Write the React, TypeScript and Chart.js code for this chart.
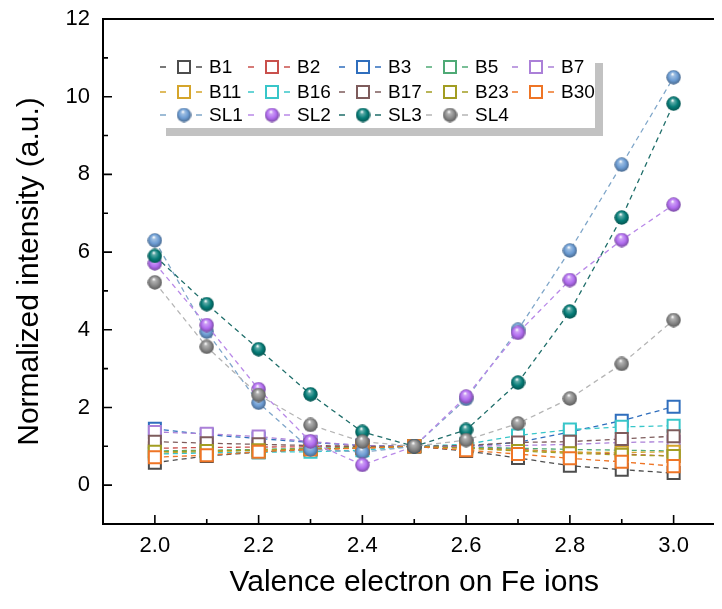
import React, { useEffect, useRef } from "react";
import { Chart, registerables } from "chart.js";

Chart.register(...registerables);

const FONT = "Arial, 'Liberation Sans', sans-serif";

// ---- data ----
const xValues = [2.0, 2.1, 2.2, 2.3, 2.4, 2.5, 2.6, 2.7, 2.8, 2.9, 3.0];
const xTicks = [2.0, 2.2, 2.4, 2.6, 2.8, 3.0];
const yTicks = [0, 2, 4, 6, 8, 10, 12];
const yMinorTicks = [1, 3, 5, 7, 9, 11];

const seriesNames = ["B1", "B2", "B3", "B5", "B7", "B11", "B16", "B17", "B23", "B30", "SL1", "SL2", "SL3", "SL4"];

const b1 = [0.58, 0.75, 0.85, 0.92, 0.96, 1.0, 0.88, 0.7, 0.5, 0.4, 0.31];
const b2 = [0.95, 0.97, 0.98, 0.99, 1.0, 1.0, 0.97, 0.92, 0.85, 0.8, 0.75];
const b3 = [1.45, 1.3, 1.2, 1.1, 1.02, 1.0, 1.0, 1.1, 1.37, 1.66, 2.02];
const b5 = [0.88, 0.9, 0.92, 0.95, 0.98, 1.0, 0.98, 0.95, 0.92, 0.9, 0.88];
const b7 = [1.37, 1.32, 1.25, 1.12, 1.02, 1.0, 1.0, 1.02, 1.05, 1.1, 1.12];
const b11 = [0.82, 0.86, 0.9, 0.93, 0.96, 1.0, 0.95, 0.9, 0.85, 0.84, 0.86];
const b16 = [0.8, 0.83, 0.85, 0.86, 0.9, 1.0, 1.05, 1.28, 1.43, 1.5, 1.53];
const b17 = [1.12, 1.08, 1.05, 1.02, 1.0, 1.0, 1.02, 1.1, 1.12, 1.19, 1.26];
const b23 = [0.86, 0.88, 0.9, 0.93, 0.96, 1.0, 0.95, 0.88, 0.82, 0.78, 0.75];
const b30 = [0.72, 0.77, 0.86, 0.92, 0.95, 1.0, 0.9, 0.8, 0.69, 0.6, 0.49];
const sl1 = [6.3, 3.95, 2.12, 0.92, 0.85, 1.0, 2.22, 4.0, 6.04, 8.25, 10.5];
const sl2 = [5.71, 4.12, 2.47, 1.12, 0.52, 1.0, 2.28, 3.92, 5.28, 6.31, 7.22];
const sl3 = [5.9, 4.66, 3.5, 2.34, 1.37, 1.0, 1.42, 2.64, 4.47, 6.89, 9.82];
const sl4 = [5.22, 3.56, 2.32, 1.55, 1.12, 1.0, 1.16, 1.59, 2.23, 3.12, 4.25];

const seriesValues = [b1, b2, b3, b5, b7, b11, b16, b17, b23, b30, sl1, sl2, sl3, sl4];

const seriesColors = [
  "#4D4D4D", "#C9504C", "#2F6EBD", "#4FAA76", "#AB80D8",
  "#D5A52B", "#38C6C9", "#7E5C5C", "#A29D22", "#EE7526",
  "#6C9CD3", "#B26DF0", "#067C77", "#898989",
];
const lineColors = [
  "#4D4D4D", "#C9504C", "#2F6EBD", "#4FAA76", "#AB80D8",
  "#D5A52B", "#38C6C9", "#7E5C5C", "#A29D22", "#EE7526",
  "#7FA6C9", "#B989E8", "#1F6E6A", "#B5B5B5",
];
const sphereSeries = [false, false, false, false, false, false, false, false, false, false, true, true, true, true];

// ---- helpers ----
function mix(hex: string, target: number, t: number) {
  const n = parseInt(hex.slice(1), 16);
  const r = (n >> 16) & 255, g = (n >> 8) & 255, b = n & 255;
  const f = (c: number) => Math.round(c + (target - c) * t);
  return `rgb(${f(r)},${f(g)},${f(b)})`;
}

function makeSphere(color: string, d: number) {
  const c = document.createElement("canvas");
  c.width = d;
  c.height = d;
  const g = c.getContext("2d")!;
  const r = d / 2;
  const grad = g.createRadialGradient(r * 0.85, r * 0.55, r * 0.05, r, r, r);
  grad.addColorStop(0, "#ffffff");
  grad.addColorStop(0.2, mix(color, 255, 0.35));
  grad.addColorStop(0.6, color);
  grad.addColorStop(1, mix(color, 0, 0.35));
  g.fillStyle = grad;
  g.beginPath();
  g.arc(r, r, r - 0.3, 0, Math.PI * 2);
  g.fill();
  return c;
}

const frameTicksPlugin = {
  id: "frameTicks",
  afterDatasetsDraw(chart: any) {
    const { ctx, chartArea: a, scales } = chart;
    const xs = scales.x, ys = scales.y;
    ctx.save();
    ctx.strokeStyle = "#000";
    ctx.lineWidth = 2;
    ctx.strokeRect(a.left, a.top, a.right - a.left, a.bottom - a.top);
    ctx.lineWidth = 1.6;
    ctx.beginPath();
    xValues.forEach((v) => {
      const px = xs.getPixelForValue(v);
      const len = xTicks.some((t) => Math.abs(t - v) < 1e-6) ? 9 : 5;
      ctx.moveTo(px, a.bottom);
      ctx.lineTo(px, a.bottom - len);
    });
    yTicks.forEach((v) => {
      const py = ys.getPixelForValue(v);
      ctx.moveTo(a.left, py);
      ctx.lineTo(a.left + 9, py);
    });
    yMinorTicks.forEach((v) => {
      const py = ys.getPixelForValue(v);
      ctx.moveTo(a.left, py);
      ctx.lineTo(a.left + 5, py);
    });
    ctx.stroke();
    ctx.restore();
  },
};

function makeLegendPlugin(spheres: (HTMLCanvasElement | null)[]) {
  return {
    id: "customLegend",
    afterDraw(chart: any) {
      const ctx = chart.ctx;
      ctx.save();
      ctx.fillStyle = "#C2C2C2";
      ctx.fillRect(158, 55, 437, 73);
      ctx.fillStyle = "#ffffff";
      ctx.fillRect(150, 47, 437, 73);
      const colX = [152, 240, 331, 418, 504];
      const rowY = [59, 84, 107];
      ctx.font = `19px ${FONT}`;
      ctx.textBaseline = "middle";
      ctx.textAlign = "left";
      chart.data.datasets.forEach((ds: any, i: number) => {
        const x0 = colX[i % 5];
        const y0 = rowY[Math.floor(i / 5)];
        ctx.strokeStyle = lineColors[i];
        ctx.lineWidth = 1.5;
        ctx.beginPath();
        ctx.moveTo(x0, y0);
        ctx.lineTo(x0 + 6, y0);
        ctx.moveTo(x0 + 36, y0);
        ctx.lineTo(x0 + 42, y0);
        ctx.stroke();
        const cx = x0 + 24;
        if (sphereSeries[i]) {
          const s = spheres[i]!;
          ctx.drawImage(s, cx - s.width / 2, y0 - s.height / 2);
        } else {
          ctx.strokeStyle = seriesColors[i];
          ctx.fillStyle = "#fff";
          ctx.lineWidth = 2;
          ctx.fillRect(cx - 6, y0 - 6, 12, 12);
          ctx.strokeRect(cx - 6, y0 - 6, 12, 12);
        }
        ctx.fillStyle = "#000";
        ctx.fillText(ds.label, x0 + 49, y0 + 1);
      });
      ctx.restore();
    },
  };
}

function zeroPad(s: any) {
  s.paddingTop = 0;
  s.paddingBottom = 0;
  s.paddingLeft = 0;
  s.paddingRight = 0;
}

const CANVAS_W = 728;
const CANVAS_H = 593;

export default function App() {
  const canvasRef = useRef<HTMLCanvasElement | null>(null);

  useEffect(() => {
    const canvas = canvasRef.current;
    if (!canvas) return;
    const spheres = seriesColors.map((c, i) => (sphereSeries[i] ? makeSphere(c, 15) : null));
    const n = seriesNames.length;
    const datasets = seriesNames.map((name, i) => ({
      label: name,
      data: xValues.map((x, j) => ({ x, y: seriesValues[i][j] })),
      borderColor: lineColors[i],
      backgroundColor: seriesColors[i],
      borderWidth: 1.3,
      borderDash: [5, 4],
      pointStyle: sphereSeries[i] ? (spheres[i] as any) : "rect",
      pointRadius: sphereSeries[i] ? 7 : 8.5,
      pointBorderWidth: 2,
      pointBorderColor: seriesColors[i],
      pointBackgroundColor: sphereSeries[i] ? seriesColors[i] : "#ffffff",
      order: n - i,
      tension: 0,
    }));

    const chart = new Chart(canvas, {
      type: "line",
      data: { datasets },
      options: {
        animation: false,
        responsive: false,
        maintainAspectRatio: false,
        layout: { padding: { top: 11, left: 0, right: 1, bottom: 0 } },
        plugins: { legend: { display: false }, tooltip: { enabled: false } },
        scales: {
          x: {
            type: "linear",
            min: 1.9,
            max: 3.1,
            grid: { display: false, drawTicks: false },
            border: { display: false },
            afterBuildTicks: (s: any) => {
              s.ticks = xTicks.map((v) => ({ value: v }));
            },
            afterFit: (s: any) => {
              s.height = 77;
              zeroPad(s);
            },
            ticks: {
              padding: 9,
              color: "#000",
              font: { family: FONT, size: 22 },
              callback: (v: any) => Number(v).toFixed(1),
            },
            title: {
              display: true,
              text: "Valence electron on Fe ions",
              color: "#000",
              font: { family: FONT, size: 30 },
              padding: { top: 0, bottom: 0 },
            },
          },
          y: {
            type: "linear",
            min: -1,
            max: 12,
            grid: { display: false, drawTicks: false },
            border: { display: false },
            afterBuildTicks: (s: any) => {
              s.ticks = yTicks.map((v) => ({ value: v }));
            },
            afterFit: (s: any) => {
              s.width = 95;
              zeroPad(s);
            },
            ticks: {
              padding: 13,
              color: "#000",
              font: { family: FONT, size: 22 },
              callback: (v: any) => String(v),
            },
            title: {
              display: true,
              text: "Normalized intensity (a.u.)",
              color: "#000",
              font: { family: FONT, size: 30 },
              padding: { top: 4, bottom: 0 },
            },
          },
        },
      } as any,
      plugins: [frameTicksPlugin, makeLegendPlugin(spheres)],
    });
    return () => chart.destroy();
  }, []);

  return (
    <div style={{ width: 714, height: CANVAS_H, overflow: "hidden", position: "relative" }}>
      <div style={{ width: CANVAS_W, height: CANVAS_H, position: "relative" }}>
        <canvas
          ref={canvasRef}
          width={CANVAS_W}
          height={CANVAS_H}
          style={{ display: "block", width: CANVAS_W, height: CANVAS_H }}
        />
      </div>
    </div>
  );
}
